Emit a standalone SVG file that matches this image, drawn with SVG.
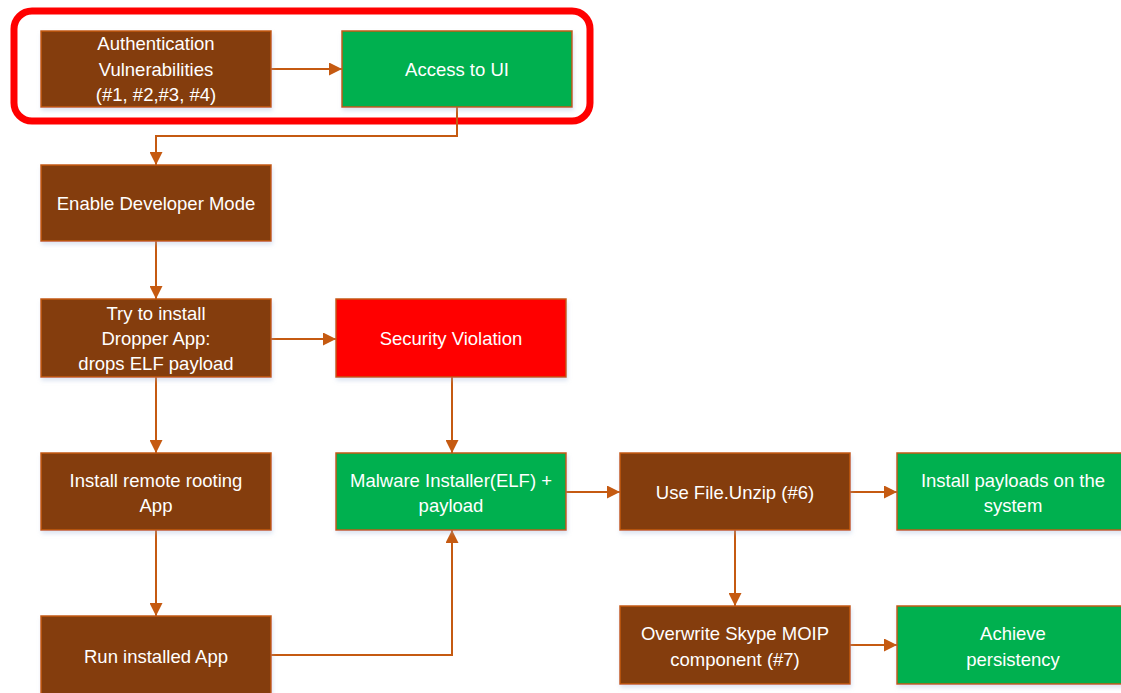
<svg xmlns="http://www.w3.org/2000/svg" width="1121" height="693" viewBox="0 0 1121 693">
<defs>
<marker id="ah" markerWidth="13" markerHeight="13" refX="13" refY="6.5" orient="auto" markerUnits="userSpaceOnUse">
<path d="M0,0 L13,6.5 L0,13 Z" fill="#C55A11"/>
</marker>
<filter id="sh" x="-5%" y="-5%" width="115%" height="125%">
<feDropShadow dx="1" dy="3" stdDeviation="2" flood-color="#9DB4D6" flood-opacity="0.35"/>
</filter>
<style>
.b{stroke:#C55A11;stroke-width:1.5;filter:url(#sh)}
.br{fill:#843C0C}
.gr{fill:#00B050}
.rd{fill:#FF0000}
.t{fill:#FFFFFF;font-family:"Liberation Sans",Arial,sans-serif;font-size:18.5px;text-anchor:middle}
.c{fill:none;stroke:#C55A11;stroke-width:2;marker-end:url(#ah)}
</style>
</defs>
<rect width="1121" height="693" fill="#FFFFFF"/>
<rect x="14" y="11" width="576" height="110" rx="18" ry="18" fill="none" stroke="#FF0000" stroke-width="7"/>
<g id="connectors">
<path class="c" d="M271,69 H342"/>
<path class="c" d="M457,107 V136 H156 V165"/>
<path class="c" d="M156,241 V299"/>
<path class="c" d="M271,339 H336"/>
<path class="c" d="M452,377 V453"/>
<path class="c" d="M156,377 V453"/>
<path class="c" d="M566,492 H620"/>
<path class="c" d="M850,492 H897"/>
<path class="c" d="M156,530 V616"/>
<path class="c" d="M271,655 H452 V530"/>
<path class="c" d="M735,530 V606"/>
<path class="c" d="M850,645 H897"/>
</g>
<g id="auth"><rect class="b br" x="41" y="31" width="230" height="76"/>
<text class="t" x="156" y="50">Authentication</text><text class="t" x="156" y="76">Vulnerabilities</text><text class="t" x="156" y="101">(#1, #2,#3, #4)</text></g>
<g id="access"><rect class="b gr" x="342" y="31" width="230" height="76"/>
<text class="t" x="457" y="76">Access to UI</text></g>
<g id="enable"><rect class="b br" x="41" y="165" width="230" height="76"/>
<text class="t" x="156" y="210">Enable Developer Mode</text></g>
<g id="try"><rect class="b br" x="41" y="299" width="230" height="78"/>
<text class="t" x="156" y="320">Try to install</text><text class="t" x="156" y="345">Dropper App:</text><text class="t" x="156" y="370">drops ELF payload</text></g>
<g id="security"><rect class="b rd" x="336" y="299" width="230" height="78"/>
<text class="t" x="451" y="345">Security Violation</text></g>
<g id="rooting"><rect class="b br" x="41" y="453" width="230" height="77"/>
<text class="t" x="156" y="487">Install remote rooting</text><text class="t" x="156" y="512">App</text></g>
<g id="malware"><rect class="b gr" x="336" y="453" width="230" height="77"/>
<text class="t" x="451" y="487">Malware Installer(ELF) +</text><text class="t" x="451" y="512">payload</text></g>
<g id="unzip"><rect class="b br" x="620" y="453" width="230" height="77"/>
<text class="t" x="735" y="499">Use File.Unzip (#6)</text></g>
<g id="payloads"><rect class="b gr" x="897" y="453" width="230" height="77"/>
<text class="t" x="1013" y="487">Install payloads on the</text><text class="t" x="1013" y="512">system</text></g>
<g id="run"><rect class="b br" x="41" y="616" width="230" height="80"/>
<text class="t" x="156" y="663">Run installed App</text></g>
<g id="overwrite"><rect class="b br" x="620" y="606" width="230" height="78"/>
<text class="t" x="735" y="640">Overwrite Skype MOIP</text><text class="t" x="735" y="666">component (#7)</text></g>
<g id="persist"><rect class="b gr" x="897" y="606" width="230" height="78"/>
<text class="t" x="1013" y="640">Achieve</text><text class="t" x="1013" y="666">persistency</text></g>
</svg>
